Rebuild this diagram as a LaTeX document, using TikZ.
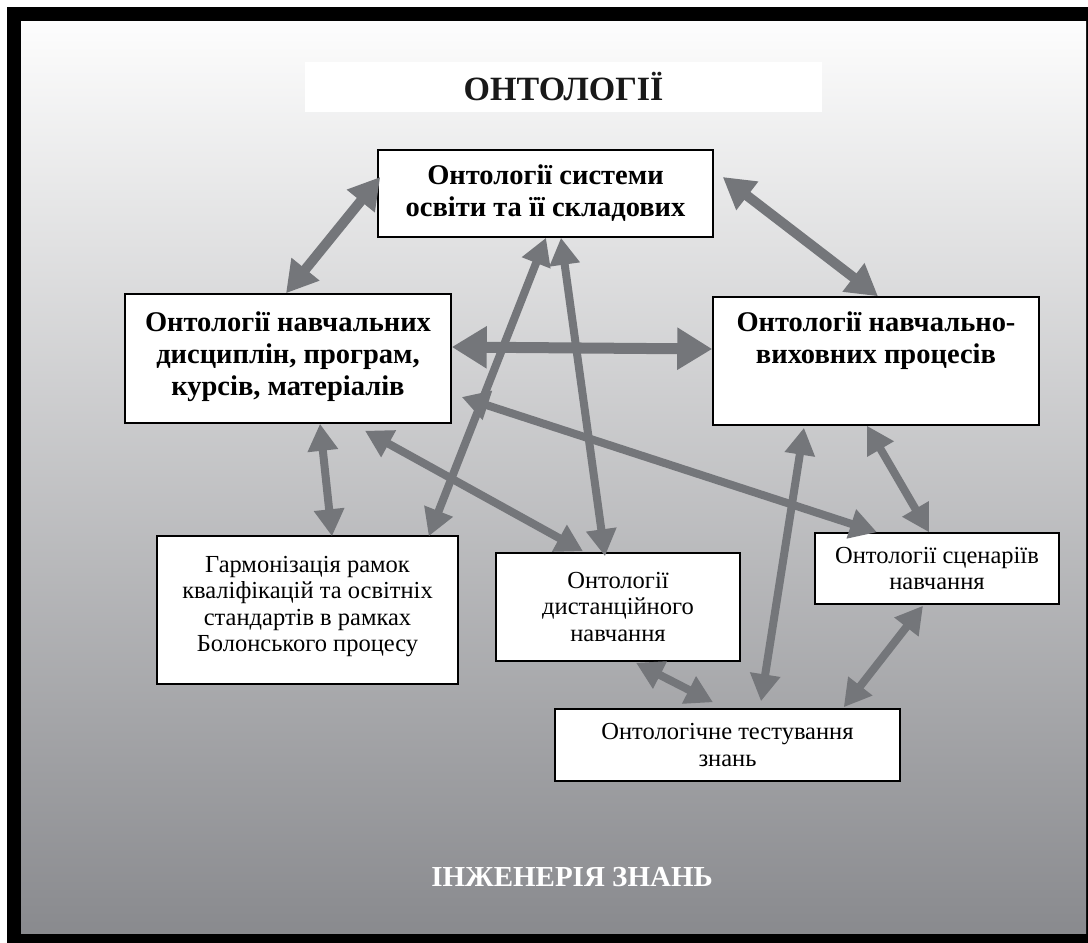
\documentclass[tikz,border=0pt]{standalone}
\usepackage{fontspec}
\setmainfont{Liberation Serif}
\usetikzlibrary{arrows.meta,calc}
\definecolor{linkgray}{HTML}{74767A}
\definecolor{bgtop}{HTML}{FDFDFD}
\definecolor{bgbottom}{HTML}{898A8E}
\def\boldbox{\node[draw=black,fill=white,line width=1.5pt,align=center,font=\fontsize{28.5}{32}\selectfont\bfseries]}
\def\plainbox{\node[draw=black,fill=white,line width=1.5pt,align=center,font=\fontsize{24.5}{26.5}\selectfont]}
\def\drawlink{\draw[color=linkgray,line width=8pt,{Triangle[length=27pt,width=29pt]}-{Triangle[length=27pt,width=29pt]}]}
\def\drawmidlink{\draw[color=linkgray,line width=10pt,{Triangle[length=31pt,width=34pt]}-{Triangle[length=31pt,width=34pt]}]}
\def\drawbiglink{\draw[color=linkgray,line width=11pt,{Triangle[length=35pt,width=40pt]}-{Triangle[length=35pt,width=40pt]}]}

\begin{document}
\begin{tikzpicture}[x=1pt,y=-1pt,inner sep=0pt]
\useasboundingbox (0,0) rectangle (1088,943);
% frame and background
\fill[white] (0,0) rectangle (1088,943);
\fill[black] (7,7) rectangle (1088,943);
\shade[top color=bgtop,bottom color=bgbottom] (21,21) rectangle (1086,933);
\node[fill=white,minimum width=517pt,minimum height=50pt,text=black!90,font=\fontsize{34}{38}\selectfont\bfseries] (title) at (563.5,87) {ОНТОЛОГІЇ};
\node[text=white,font=\fontsize{29}{32}\selectfont\bfseries] (eng) at (572,877) {ІНЖЕНЕРІЯ ЗНАНЬ};
% boxes
\boldbox[minimum width=335pt,minimum height=87pt] (sys) at (545.5,193.5) {Онтології системи\\освіти та її складових};
\boldbox[minimum width=326pt,minimum height=129pt] (disc) at (288,358.5) {Онтології навчальних\\дисциплін, програм,\\курсів, матеріалів\\[-23pt]\mbox{}};
\boldbox[minimum width=326pt,minimum height=128pt] (proc) at (876,361) {Онтології навчально-\\виховних процесів\\[14pt]\mbox{}};
\plainbox[minimum width=301pt,minimum height=148pt] (harm) at (307.5,610) {Гармонізація рамок\\кваліфікацій та освітніх\\стандартів в рамках\\Болонського процесу\\[-14pt]\mbox{}};
\plainbox[minimum width=244pt,minimum height=108pt] (dist) at (618,607) {Онтології\\дистанційного\\навчання};
\plainbox[minimum width=244pt,minimum height=71pt] (scen) at (937,568.5) {Онтології сценаріїв\\навчання};
\plainbox[minimum width=345pt,minimum height=72pt] (test) at (727.5,745) {Онтологічне тестування\\знань};
% links
\drawmidlink ($(sys.west)+(3,-16.5)$) -- ($(disc.north)+(-2,0)$);
\drawmidlink ($(sys.east)+(9,-16.5)$) -- ($(proc.north)+(2,0)$);
\drawbiglink ($(disc.east)+(0,-11.5)$) -- ($(proc.west)+(0,-12)$);
\drawlink ($(sys.south)+(0.5,0)$) -- ($(harm.north east)+(-30,1)$);
\drawlink ($(sys.south)+(15.5,0)$) -- ($(dist.north)+(-13,4)$);
\drawlink ($(disc.south)+(32,0)$) -- ($(harm.north)+(24.5,1)$);
\drawlink ($(disc.south)+(77,7)$) -- ($(dist.north)+(-35,-1)$);
\drawlink ($(disc.east)+(10,38.5)$) -- ($(scen.north)+(-60,0)$);
\drawlink ($(proc.south)+(-9,0)$) -- ($(scen.north)+(-8,0)$);
\drawlink ($(proc.south)+(-72,2)$) -- ($(test.north)+(33.5,-7)$);
\drawlink ($(dist.south)+(18,1)$) -- ($(test.north)+(-14.5,-6)$);
\drawlink ($(scen.south)+(-14,1)$) -- ($(test.north east)+(-57,-1)$);
\end{tikzpicture}
\end{document}
